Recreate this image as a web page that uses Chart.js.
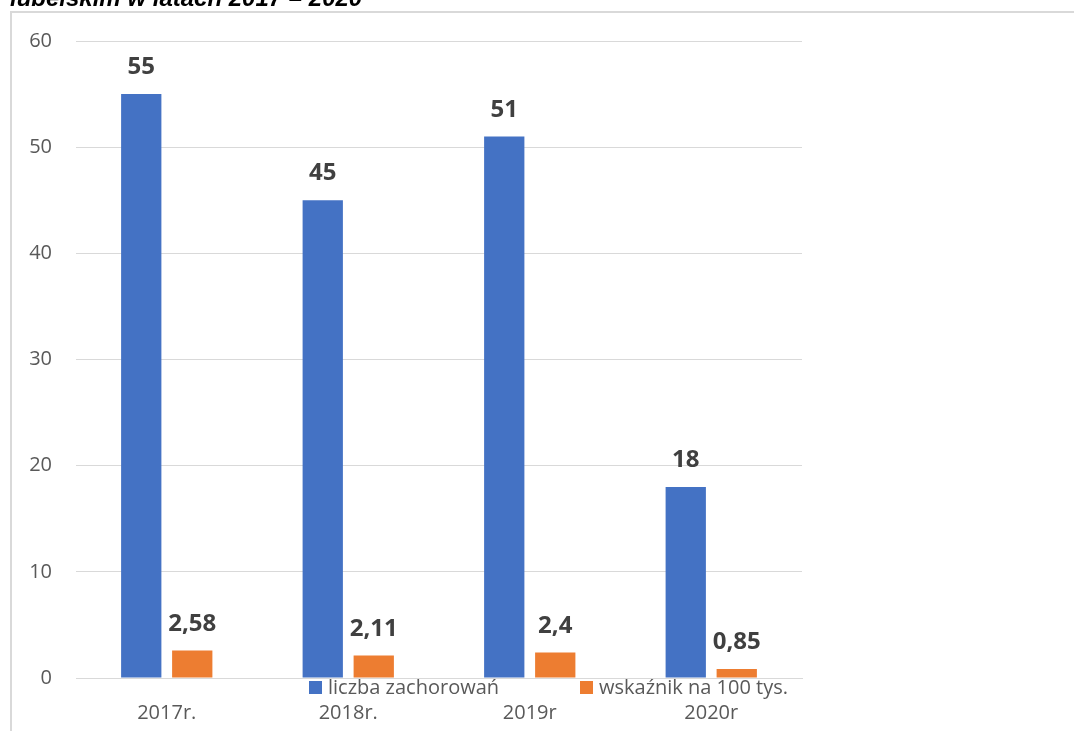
<!DOCTYPE html>
<html lang="pl">
<head>
<meta charset="utf-8">
<script src="https://cdn.jsdelivr.net/npm/chart.js@4.4.1/dist/chart.umd.min.js"></script>
<style>
    html, body { margin: 0; padding: 0; background: #fff; overflow: hidden; }
    #wrap { position: relative; width: 1074px; height: 731px; }
    #frame {
        position: absolute; left: 10px; top: 11px; width: 1100px; height: 760px;
        border: 2px solid #d9d9d9; box-sizing: border-box;
    }
    #zachorowania { position: absolute; left: 0; top: 0; }
</style>
</head>
<body>
<div id="wrap">
    <div id="frame"></div>
    <canvas id="zachorowania" width="1074" height="731"></canvas>
</div>
<script>
// Dane: zachorowania w województwie lubelskim 2017-2020
const tytul = 'lubelskim w latach 2017 – 2020';
const lata = ['2017r.', '2018r.', '2019r', '2020r'];
const liczbaZachorowan = [55, 45, 51, 18];
const wskaznik = [2.58, 2.11, 2.4, 0.85];
const nazwySerii = ['liczba zachorowań', 'wskaźnik na 100 tys.'];
const kolory = ['#4472C4', '#ED7D31'];

const FONT = '"Open Sans", "Noto Sans", sans-serif';

// Podpisy wartości nad słupkami (przecinek dziesiętny)
const etykietyWartosci = {
    id: 'etykietyWartosci',
    afterDatasetsDraw(chart) {
        const ctx = chart.ctx;
        ctx.save();
        ctx.font = 'bold 24px ' + FONT;
        ctx.fillStyle = '#404040';
        ctx.textAlign = 'center';
        ctx.textBaseline = 'alphabetic';
        chart.data.datasets.forEach((ds, i) => {
            chart.getDatasetMeta(i).data.forEach((bar, j) => {
                const txt = String(ds.data[j]).replace('.', ',');
                ctx.fillText(txt, bar.x, bar.y - 20);
            });
        });
        ctx.restore();
    }
};

// Tytuł (ucięty u góry) i legenda nachodząca na oś X
const tytulILegenda = {
    id: 'tytulILegenda',
    afterDraw(chart) {
        const ctx = chart.ctx;
        ctx.save();
        ctx.font = 'italic bold 24px "Liberation Sans", Arial, sans-serif';
        ctx.fillStyle = '#000';
        ctx.textAlign = 'left';
        ctx.textBaseline = 'alphabetic';
        ctx.fillText(tytul, 10, 6);

        const pozycje = [309, 580];
        ctx.font = '20px ' + FONT;
        ctx.textBaseline = 'middle';
        chart.data.datasets.forEach((ds, i) => {
            const x = pozycje[i];
            ctx.fillStyle = ds.backgroundColor;
            ctx.fillRect(x, 681, 13, 13);
            ctx.fillStyle = '#595959';
            ctx.fillText(ds.label, x + 19, 688);
        });
        ctx.restore();
    }
};

new Chart(document.getElementById('zachorowania'), {
    type: 'bar',
    data: {
        labels: lata,
        datasets: [
            { label: nazwySerii[0], data: liczbaZachorowan, backgroundColor: kolory[0] },
            { label: nazwySerii[1], data: wskaznik, backgroundColor: kolory[1] }
        ]
    },
    options: {
        responsive: false,
        devicePixelRatio: 1,
        animation: false,
        layout: { padding: { top: 41, right: 272, bottom: 0, left: 0 } },
        datasets: {
            bar: { categoryPercentage: 0.562, barPercentage: 0.79 }
        },
        plugins: {
            legend: { display: false },
            tooltip: { enabled: false }
        },
        scales: {
            x: {
                afterFit(scale) { scale.height = 53; },
                grid: { display: false },
                border: { display: true, color: '#d9d9d9', width: 1 },
                ticks: { color: '#595959', font: { family: FONT, size: 20 }, padding: 15 }
            },
            y: {
                min: 0,
                max: 60,
                afterFit(scale) { scale.width = 76; },
                grid: { color: '#d9d9d9', lineWidth: 1, drawTicks: false },
                border: { display: false },
                ticks: { stepSize: 10, color: '#595959', font: { family: FONT, size: 20 }, padding: 24 }
            }
        }
    },
    plugins: [etykietyWartosci, tytulILegenda]
});
</script>
</body>
</html>
